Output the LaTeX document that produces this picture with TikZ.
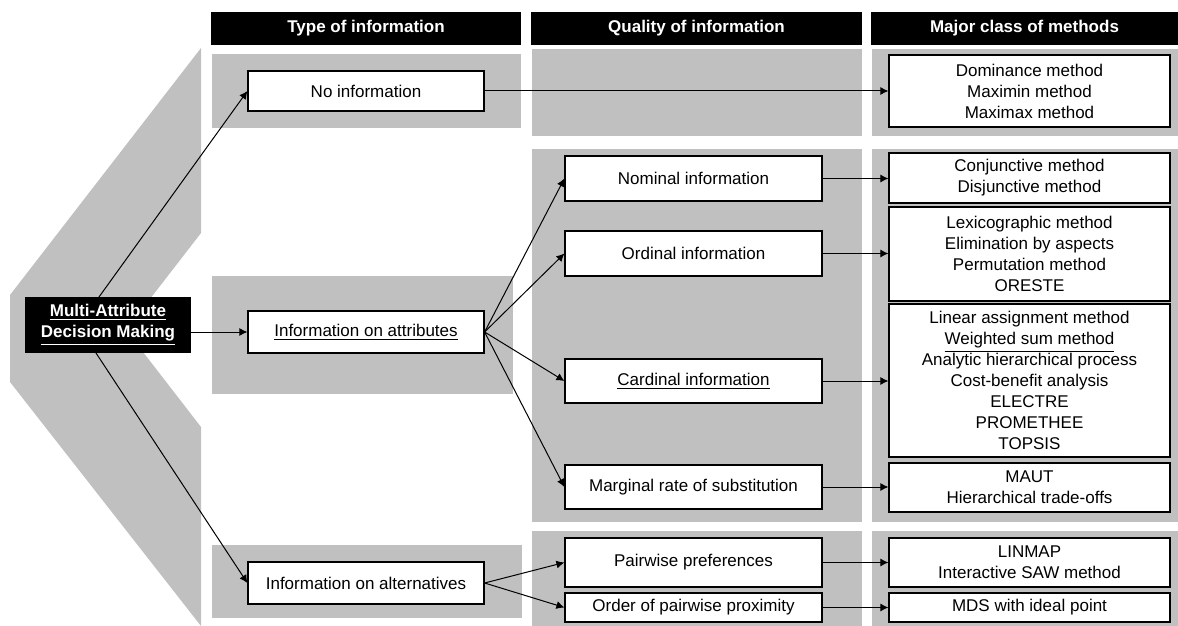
\documentclass[tikz,border=0pt]{standalone}
\usepackage{fontspec}
\setmainfont{Liberation Sans}
\usetikzlibrary{arrows.meta}
\definecolor{panelgray}{RGB}{192,192,192}
\tikzset{
  rect/.style n args={4}{at={({(#1+#3)/2},{(#2+#4)/2})}, minimum width={0.5pt*(#3-#1)}, minimum height={0.5pt*(#4-#2)}},
  panel/.style={fill=panelgray},
  hdr/.style={fill=black, text=white, inner sep=0pt, font=\fontsize{8.5}{10.5}\selectfont\bfseries},
  box/.style={draw=black, fill=white, line width=0.6pt, inner sep=0pt, align=center, font=\fontsize{8.5}{10.5}\selectfont},
  madbox/.style={fill=black, text=white, inner sep=0pt, align=center, font=\fontsize{8.5}{10.5}\selectfont\bfseries},
  arr/.style={-{Latex[length=4pt,width=4pt]}, line width=0.5pt},
}
\begin{document}
\begin{tikzpicture}[x=0.5pt,y=-0.5pt]
\useasboundingbox (0,0) rectangle (1178,626);
% chevron
\fill[panelgray] (201,48) -- (10,295) -- (10,382) -- (201,626) -- (201,427) -- (126,330) -- (201,233) -- cycle;
% panels
\fill[panel] (212,54) rectangle (521,128);
\fill[panel] (212,276) rectangle (513,394);
\fill[panel] (212,545) rectangle (522,618);
\fill[panel] (532,49) rectangle (862,136);
\fill[panel] (532,149) rectangle (862,522);
\fill[panel] (532,531) rectangle (862,626);
\fill[panel] (872,49) rectangle (1178,136);
\fill[panel] (872,149) rectangle (1178,522);
\fill[panel] (872,531) rectangle (1178,626);
% headers
\node[hdr, rect={211}{12}{521}{45}] (h1) {Type of information};
\node[hdr, rect={531}{12}{862}{45}] (h2) {Quality of information};
\node[hdr, rect={871}{12}{1178}{45}] (h3) {Major class of methods};
% root
\node[madbox, rect={25}{297}{191}{353}] (mad) {\underline{Multi-Attribute}\\\underline{Decision Making}};
\coordinate (madtop) at (99,297);
\coordinate (madbot) at (96,353);
% column 1
\node[box, rect={248}{71}{484}{111}] (noinfo) {No information};
\node[box, rect={248}{311}{484}{353}] (ioa) {\underline{Information on attributes}};
\node[box, rect={248}{562}{484}{604}] (ialt) {Information on alternatives};
% column 2
\node[box, rect={565}{156}{822}{201}] (nom) {Nominal information};
\node[box, rect={565}{231}{822}{276}] (ord) {Ordinal information};
\node[box, rect={565}{359}{822}{403}] (card) {\underline{Cardinal information}};
\node[box, rect={565}{465}{822}{509}] (mrs) {Marginal rate of substitution};
\node[box, rect={565}{538}{822}{587}] (pw) {Pairwise preferences};
\node[box, rect={565}{593}{822}{622}] (opp) {Order of pairwise proximity};
% column 3
\node[box, rect={889}{55}{1170}{127}] (dom) {Dominance method\\Maximin method\\Maximax method};
\node[box, rect={889}{153}{1170}{203}] (conj) {Conjunctive method\\Disjunctive method};
\node[box, rect={889}{207}{1170}{301}] (lex) {Lexicographic method\\Elimination by aspects\\Permutation method\\ORESTE};
\node[box, rect={889}{304}{1170}{457}] (lin) {Linear assignment method\\\underline{Weighted sum method}\\Analytic hierarchical process\\Cost-benefit analysis\\ELECTRE\\PROMETHEE\\TOPSIS};
\node[box, rect={889}{463}{1170}{512}] (maut) {MAUT\\Hierarchical trade-offs};
\node[box, rect={889}{538}{1170}{587}] (linmap) {LINMAP\\Interactive SAW method};
\node[box, rect={889}{593}{1170}{622}] (mds) {MDS with ideal point};
% connectors
\draw[arr] (madtop) -- (noinfo.west);
\draw[arr] (mad.east |- ioa.west) -- (ioa.west);
\draw[arr] (madbot) -- (ialt.west);
\draw[arr] (noinfo.east) -- (noinfo.east -| dom.west);
\draw[arr] (ioa.east) -- (nom.west);
\draw[arr] (ioa.east) -- (ord.west);
\draw[arr] (ioa.east) -- (card.west);
\draw[arr] (ioa.east) -- (mrs.west);
\draw[arr] (ialt.east) -- (pw.west);
\draw[arr] (ialt.east) -- (opp.west);
\draw[arr] (nom.east) -- (nom.east -| conj.west);
\draw[arr] (ord.east) -- (ord.east -| lex.west);
\draw[arr] (card.east) -- (card.east -| lin.west);
\draw[arr] (mrs.east) -- (mrs.east -| maut.west);
\draw[arr] (pw.east) -- (pw.east -| linmap.west);
\draw[arr] (opp.east) -- (opp.east -| mds.west);
\end{tikzpicture}
\end{document}
